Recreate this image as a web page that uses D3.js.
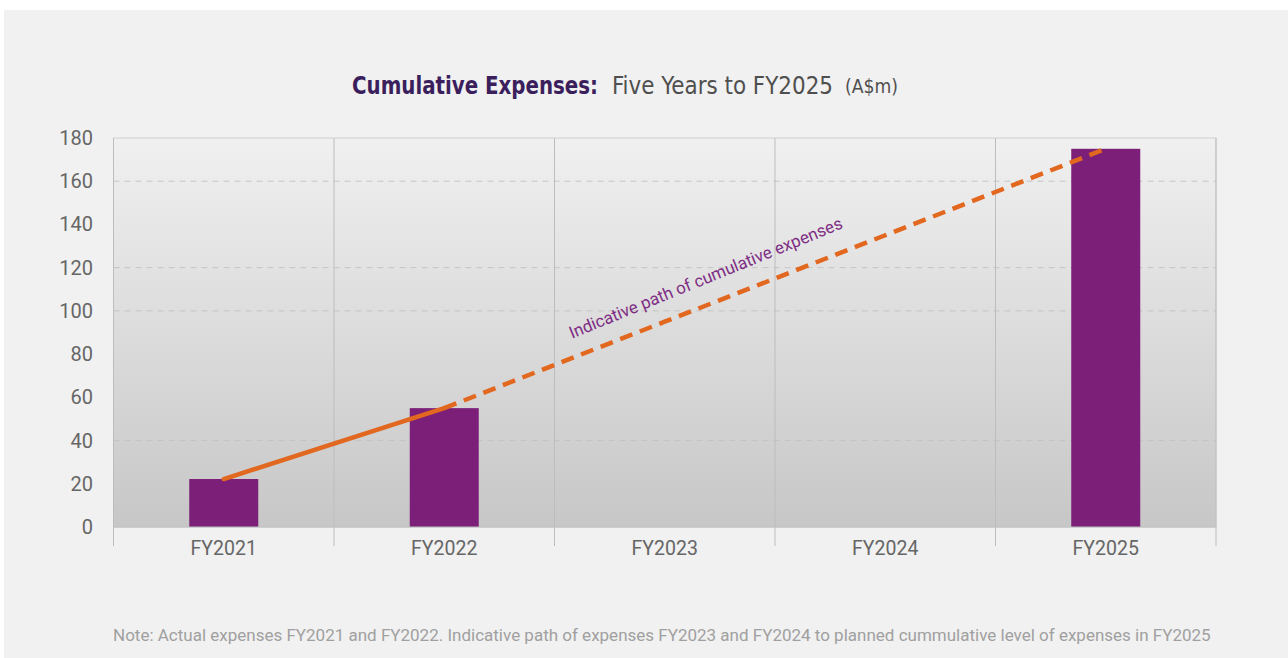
<!DOCTYPE html>
<html lang="en">
<head>
    <meta charset="UTF-8">
    <title>Cumulative Expenses</title>
    <script src="https://d3js.org/d3.v7.min.js"></script>
    <style>
        body { margin: 0; background: #fff; }
        text { font-family: Roboto, 'Noto Sans', sans-serif; }
    </style>
</head>
<body>
    <script>
        // data
        const years = ["FY2021", "FY2022", "FY2023", "FY2024", "FY2025"];
        const actual = [22.2, 55, null, null, 175];
        const pathValues = [22.2, 55, 95, 135, 175];
        const yTicks = [0, 20, 40, 60, 80, 100, 120, 140, 160, 180];
        const gridValues = [40, 100, 120, 160];

        const w = 1288, h = 658;
        const plotLeft = 113.5, plotRight = 1216, plotTop = 138, plotBottom = 527;

        const svg = d3.select("body").append("svg")
            .attr("width", w)
            .attr("height", h);

        // panel background
        svg.append("rect")
            .attr("x", 4).attr("y", 10)
            .attr("width", w - 4).attr("height", h - 10)
            .attr("fill", "#f1f1f1");

        const grad = svg.append("defs").append("linearGradient")
            .attr("id", "bg").attr("x1", 0).attr("y1", 0).attr("x2", 0).attr("y2", 1);
        grad.append("stop").attr("offset", "0%").attr("stop-color", "#f0f0f0");
        grad.append("stop").attr("offset", "100%").attr("stop-color", "#c7c7c7");

        const x = d3.scaleBand().domain(years).range([plotLeft, plotRight]);
        const y = d3.scaleLinear().domain([0, 180]).range([plotBottom, plotTop]);

        svg.append("rect")
            .attr("x", plotLeft).attr("y", plotTop)
            .attr("width", plotRight - plotLeft).attr("height", plotBottom - plotTop)
            .attr("fill", "url(#bg)")
            .attr("stroke", "#cfcfcf");

        // dashed gridlines
        svg.append("g").selectAll("line")
            .data(gridValues)
            .join("line")
            .attr("x1", plotLeft).attr("x2", plotRight)
            .attr("y1", d => y(d)).attr("y2", d => y(d))
            .attr("stroke", "#c4c4c4")
            .attr("stroke-dasharray", "6,5");

        // category dividers with ticks below
        const bounds = years.map(d => x(d)).concat([plotRight]);
        svg.append("g").selectAll("line")
            .data(bounds)
            .join("line")
            .attr("x1", d => d).attr("x2", d => d)
            .attr("y1", plotTop).attr("y2", 546)
            .attr("stroke", "#bdbdbd");

        // bars
        const barW = 69;
        svg.append("g").selectAll("rect")
            .data(years.map((d, i) => ({ year: d, v: actual[i] })).filter(d => d.v != null))
            .join("rect")
            .attr("x", d => x(d.year) + x.bandwidth() / 2 - barW / 2)
            .attr("y", d => y(d.v))
            .attr("width", barW)
            .attr("height", d => y(0) - y(d.v))
            .attr("fill", "#7b1f78");

        // axis line
        svg.append("line")
            .attr("x1", plotLeft).attr("x2", plotRight)
            .attr("y1", plotBottom).attr("y2", plotBottom)
            .attr("stroke", "#bdbdbd");

        // indicative path
        const pts = years.map((d, i) => [x(d) + x.bandwidth() / 2, y(pathValues[i])]);
        const line = d3.line();
        svg.append("path")
            .attr("d", line(pts.slice(0, 2)))
            .attr("fill", "none")
            .attr("stroke", "#e2671f")
            .attr("stroke-width", 4.5)
            .attr("stroke-linecap", "round");
        svg.append("path")
            .attr("d", line(pts.slice(1)))
            .attr("fill", "none")
            .attr("stroke", "#e2671f")
            .attr("stroke-width", 4.5)
            .attr("stroke-dasharray", "13,8");

        // label along line
        const a = pts[1], b = pts[4];
        const ang = Math.atan2(b[1] - a[1], b[0] - a[0]) * 180 / Math.PI;
        const t = 0.41;
        const lx = a[0] + (b[0] - a[0]) * t, ly = a[1] + (b[1] - a[1]) * t;
        svg.append("text")
            .attr("transform", `translate(${lx},${ly}) rotate(${ang - 0.8}) translate(0,-20)`)
            .attr("text-anchor", "middle")
            .style("font-size", "17px")
            .style("fill", "#7e2d84")
            .text("Indicative path of cumulative expenses");

        // y tick labels
        svg.append("g").selectAll("text")
            .data(yTicks)
            .join("text")
            .attr("x", 93)
            .attr("y", d => y(d))
            .attr("dy", "0.35em")
            .attr("text-anchor", "end")
            .style("font-size", "20px")
            .style("fill", "#666")
            .text(d => d);

        // x tick labels
        svg.append("g").selectAll("text")
            .data(years)
            .join("text")
            .attr("x", d => x(d) + x.bandwidth() / 2)
            .attr("y", 548)
            .attr("dy", "0.35em")
            .attr("text-anchor", "middle")
            .style("font-size", "19.5px")
            .style("fill", "#666")
            .text(d => d);

        // title, three pieces in a condensed face
        const titleFont = "'Liberation Sans Narrow', 'DejaVu Sans Condensed', sans-serif";
        svg.append("text")
            .attr("x", 352).attr("y", 94)
            .attr("textLength", 246).attr("lengthAdjust", "spacingAndGlyphs")
            .style("font-family", titleFont)
            .style("font-size", "25px")
            .style("font-weight", "bold")
            .style("fill", "#3b1f5c")
            .text("Cumulative Expenses:");
        svg.append("text")
            .attr("x", 612).attr("y", 94)
            .attr("textLength", 221).attr("lengthAdjust", "spacingAndGlyphs")
            .style("font-family", titleFont)
            .style("font-size", "25px")
            .style("fill", "#4f4f4f")
            .text("Five Years to FY2025");
        svg.append("text")
            .attr("x", 845).attr("y", 93)
            .attr("textLength", 53).attr("lengthAdjust", "spacingAndGlyphs")
            .style("font-family", titleFont)
            .style("font-size", "19px")
            .style("fill", "#4f4f4f")
            .text("(A$m)");

        // note
        svg.append("text")
            .attr("x", 113).attr("y", 641)
            .style("font-size", "17px")
            .style("fill", "#a0a0a0")
            .text("Note: Actual expenses FY2021 and FY2022. Indicative path of expenses FY2023 and FY2024 to planned cummulative level of expenses in FY2025");
    </script>
</body>
</html>
